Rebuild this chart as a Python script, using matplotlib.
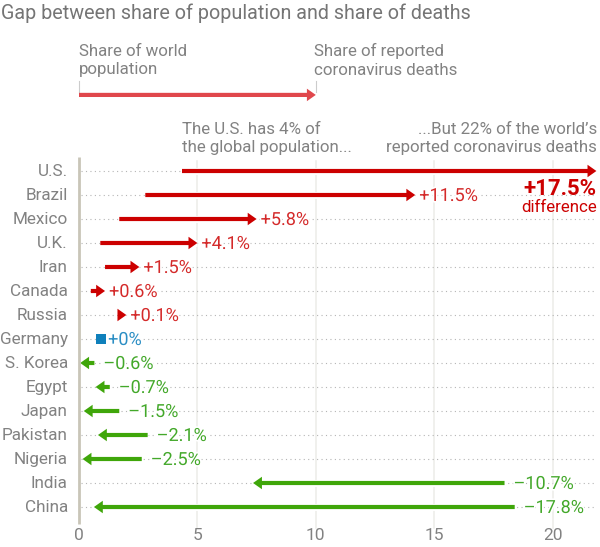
import matplotlib
matplotlib.use('Agg')
import matplotlib.pyplot as plt
import matplotlib.patheffects as pe
from matplotlib.patches import FancyArrowPatch

plt.rcParams['font.family'] = ['Roboto', 'DejaVu Sans']

countries = ['U.S.', 'Brazil', 'Mexico', 'U.K.', 'Iran', 'Canada', 'Russia', 'Germany',
             'S. Korea', 'Egypt', 'Japan', 'Pakistan', 'Nigeria', 'India', 'China']
pop_share = [4.35, 2.8, 1.7, 0.9, 1.1, 0.5, 1.65, 0.93, 0.65, 1.3, 1.7, 2.9, 2.65, 17.97, 18.4]
death_share = [21.85, 14.2, 7.5, 5.0, 2.55, 1.1, 2.0, 0.93, 0.05, 0.7, 0.2, 0.8, 0.15, 7.35, 0.63]
gap_labels = ['', '+11.5%', '+5.8%', '+4.1%', '+1.5%', '+0.6%', '+0.1%', '+0%',
              '–0.6%', '–0.7%', '–1.5%', '–2.1%', '–2.5%', '–10.7%', '–17.8%']
xticks = [0, 5, 10, 15, 20]

RED = '#cc0000'
GREEN = '#3fa60a'
BLUE = '#0f80bb'
LABEL_RED = '#d42a2a'
LABEL_GREEN = '#43a82a'
LABEL_BLUE = '#2b8ec4'
GRAY = '#828282'

W, H = 600, 547
fig = plt.figure(figsize=(W / 100, H / 100), dpi=100)

# axes placed in pixels so the x scale lands where the reference has it
left, right, top, bottom = 79, 597, 157, 524
ax = fig.add_axes([left / W, 1 - bottom / H, (right - left) / W, (bottom - top) / H])
ax.set_xlim(0, (right - left) / 23.68)
ax.set_ylim((bottom - 171) / 24, (top - 171) / 24)
ax.axis('off')


def arrow(ax, x0, x1, y, color):
    style = 'simple,head_length=6.4,head_width=9,tail_width=3'
    a = FancyArrowPatch((x0, y), (x1, y), arrowstyle=style, mutation_scale=1,
                        color=color, lw=0, shrinkA=0, shrinkB=0, clip_on=False, zorder=4)
    ax.add_patch(a)


halo = [pe.withStroke(linewidth=2.5, foreground='white')]

for x in xticks[1:]:
    ax.plot([x, x], [-0.42, 14.87], color='#ecece8', lw=1.1, zorder=1, clip_on=False)
ax.plot([0, 0], [-0.6, 14.7], color='#c9c5b8', lw=2, zorder=5, clip_on=False, solid_capstyle='butt')

for x in xticks:
    ax.text(x, 15.2, str(x), ha='center', va='center', fontsize=12.5, color=GRAY)

for i, name in enumerate(countries):
    ax.plot([0.1, ax.get_xlim()[1]], [i, i], color='#b5b5b5', lw=0.8, ls=(0, (1, 3)), zorder=2)
    ax.text(-0.47, i + 0.04, name, ha='right', va='center', fontsize=12.3, color=GRAY, clip_on=False)

    p, d = pop_share[i], death_share[i]
    if d > p:
        col, tcol = RED, LABEL_RED
        tx = d + 0.17
    elif d < p:
        col, tcol = GREEN, LABEL_GREEN
        tx = p + 0.38
    else:
        col, tcol = BLUE, LABEL_BLUE
        tx = d + 0.3
    # white gap behind the arrow hides the dots
    ax.plot([min(p, d), max(p, d)], [i, i], color='white', lw=5, zorder=3, solid_capstyle='butt')
    if d == p:
        ax.plot(p, i, marker='s', ms=7.5, color=col, mew=0, zorder=4)
    else:
        arrow(ax, p, d, i, col)
    if gap_labels[i]:
        ax.text(tx, i + 0.04, gap_labels[i], ha='left', va='center', fontsize=13, color=tcol,
                path_effects=halo, zorder=6)

# how-to-read key
key_y = -3.17
ax.plot([0, 0], [-3.75, -3.3], color='#cccccc', lw=0.8, clip_on=False)
ax.plot([10, 10], [-3.75, -3.3], color='#cccccc', lw=0.8, clip_on=False)
arrow(ax, 0, 10, key_y, '#e0474c')
fig.text(79 / W, 1 - 60.5 / H, 'Share of world\npopulation', ha='left', va='center',
         fontsize=12.2, color=GRAY, linespacing=1.33)
fig.text(314 / W, 1 - 60.5 / H, 'Share of reported\ncoronavirus deaths', ha='left', va='center',
         fontsize=12.2, color=GRAY, linespacing=1.33)

fig.text(182 / W, 1 - 138.5 / H, 'The U.S. has 4% of\nthe global population...', ha='left', va='center',
         fontsize=12.2, color=GRAY, linespacing=1.33)
fig.text(597 / W, 1 - 138.5 / H, '...But 22% of the world’s\nreported coronavirus deaths', ha='right', va='center',
         fontsize=12.2, color=GRAY, linespacing=1.33, multialignment='right')
fig.text(597 / W, 1 - 189 / H, '+17.5%', ha='right', va='center', fontsize=16, color=RED, fontweight='bold')
fig.text(597 / W, 1 - 208 / H, 'difference', ha='right', va='center', fontsize=12.2, color=RED)

fig.text(1 / W, 1 - 13 / H, 'Gap between share of population and share of deaths', ha='left', va='center',
         fontsize=14.2, color='#757575')

fig.savefig('out.png', dpi=100)
